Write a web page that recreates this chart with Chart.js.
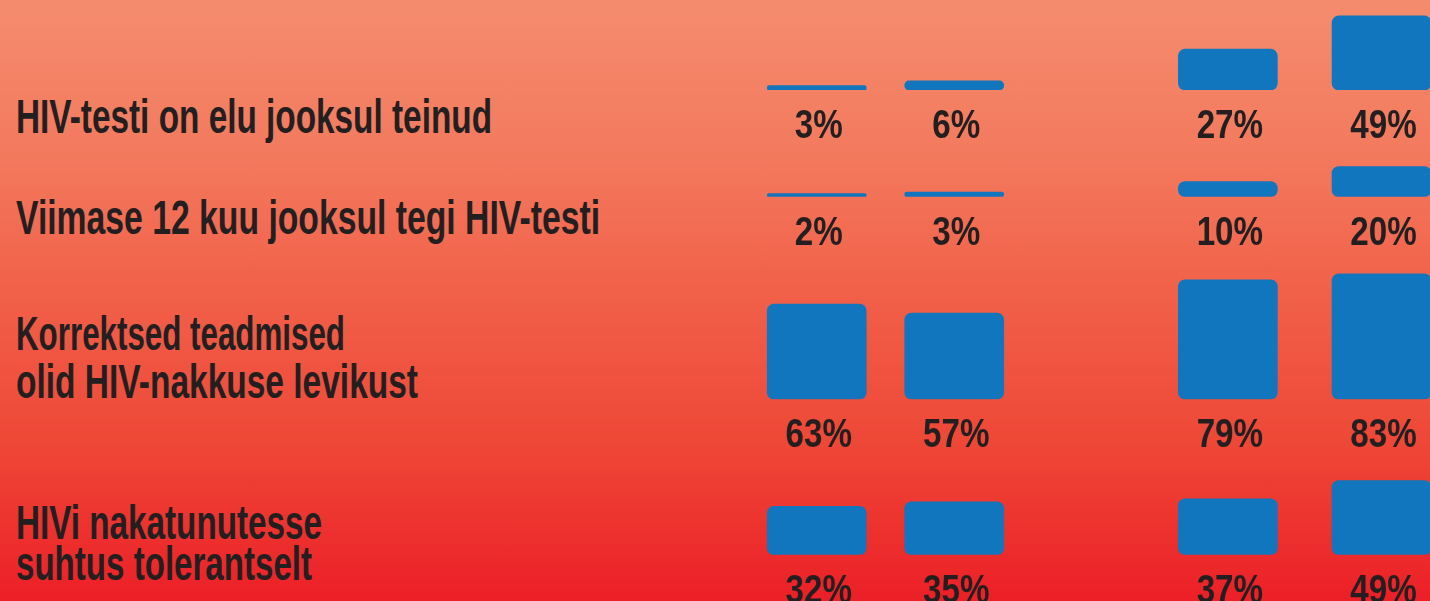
<!DOCTYPE html>
<html>
<head>
<meta charset="utf-8">
<script src="https://cdn.jsdelivr.net/npm/chart.js@4/dist/chart.umd.min.js"></script>
<style>
html,body{margin:0;padding:0;width:1430px;height:601px;overflow:hidden;}
body{position:relative;background:linear-gradient(to bottom,#f58c6e 0%,#f37a5e 25%,#f15f48 50%,#ee4636 75%,#ec1f27 100%);}
.lbl{position:absolute;left:16px;font-family:'Liberation Sans',Arial,sans-serif;font-weight:bold;font-size:49px;line-height:49px;color:#231f20;white-space:nowrap;transform-origin:0 0;}
.wrap{position:absolute;top:0;height:601px;}
</style>
</head>
<body>
<div class="wrap" id="wl"><canvas id="cl"></canvas></div>
<div class="wrap" id="wr"><canvas id="cr"></canvas></div>
<script>
// ---- data ----
const columns = ['Rühm 1', 'Rühm 2', 'Rühm 3', 'Rühm 4'];
const rowLabels = [
  ['HIV-testi on elu jooksul teinud'],
  ['Viimase 12 kuu jooksul tegi HIV-testi'],
  ['Korrektsed teadmised', 'olid HIV-nakkuse levikust'],
  ['HIVi nakatunutesse', 'suhtus tolerantselt']
];
const everTested = [3, 6, 27, 49];
const tested12m = [2, 3, 10, 20];
const correctKnowledge = [63, 57, 79, 83];
const tolerant = [32, 35, 37, 49];
const series = [everTested, tested12m, correctKnowledge, tolerant];

// ---- layout ----
const rowBaselines = [90, 196.7, 399.3, 554.7];
const pxPerPct = 1.512;
const labelBaselines = [[133.3], [234], [350, 398.3], [539, 580.7]];
const labelWidths = [[476], [584], [329, 402], [306, 296]];
const H = 601;
const FONT = '"Liberation Sans", Arial, sans-serif';
const groups = [
  {el: 'wl', canvas: 'cl', left: 748.25, width: 275, cols: [0, 1]},
  {el: 'wr', canvas: 'cr', left: 1150.95, width: 307.4, cols: [2, 3]}
];

// row labels (HTML text)
const mctx = document.createElement('canvas').getContext('2d');
mctx.font = 'bold 49px ' + FONT;
rowLabels.forEach((lines, r) => {
  lines.forEach((t, k) => {
    const d = document.createElement('div');
    d.className = 'lbl';
    d.textContent = t;
    d.style.top = (labelBaselines[r][k] - 0.8465 * 49) + 'px';
    const w = mctx.measureText(t).width;
    d.style.transform = 'scaleX(' + (labelWidths[r][k] / w) + ')';
    document.body.appendChild(d);
  });
});

const valueLabels = {
  id: 'valueLabels',
  afterDatasetsDraw(chart) {
    const ctx = chart.ctx;
    ctx.save();
    ctx.font = 'bold 40px ' + FONT;
    ctx.fillStyle = '#231f20';
    ctx.textAlign = 'center';
    ctx.textBaseline = 'alphabetic';
    const sx = 0.83;
    chart.data.datasets.forEach((ds, di) => {
      const meta = chart.getDatasetMeta(di);
      const base = chart.scales[ds.yAxisID].getPixelForValue(0);
      meta.data.forEach((bar, i) => {
        ctx.save();
        ctx.translate(bar.x + 2, base + 48);
        ctx.scale(sx, 1);
        ctx.fillText(ds.data[i] + '%', 0, 0);
        ctx.restore();
      });
    });
    ctx.restore();
  }
};

groups.forEach(g => {
  const wrap = document.getElementById(g.el);
  wrap.style.left = g.left + 'px';
  wrap.style.width = g.width + 'px';
  const scales = {
    x: {type: 'category', display: false, offset: true, grid: {display: false}}
  };
  let prev = 0;
  rowBaselines.forEach((b, r) => {
    const band = b - prev;
    prev = b;
    scales['r' + r] = {
      type: 'linear', position: 'right', stack: 'rows', stackWeight: band, weight: r + 1,
      min: 0, max: band / pxPerPct, display: false, grid: {display: false}
    };
  });
  new Chart(document.getElementById(g.canvas), {
    type: 'bar',
    data: {
      labels: g.cols.map(c => columns[c]),
      datasets: series.map((s, r) => ({
        label: rowLabels[r].join(' '),
        data: g.cols.map(c => s[c]),
        yAxisID: 'r' + r,
        grouped: false,
        backgroundColor: '#1176bd',
        borderWidth: 0,
        borderRadius: 7,
        borderSkipped: false,
        barPercentage: 1,
        categoryPercentage: 1,
        maxBarThickness: 99
      }))
    },
    options: {
      responsive: true,
      maintainAspectRatio: false,
      animation: false,
      events: [],
      layout: {autoPadding: false, padding: {top: 0, left: 0, right: 0, bottom: H - rowBaselines[3]}},
      plugins: {legend: {display: false}, title: {display: false}, tooltip: {enabled: false}},
      scales
    },
    plugins: [valueLabels]
  });
});
</script>
</body>
</html>
